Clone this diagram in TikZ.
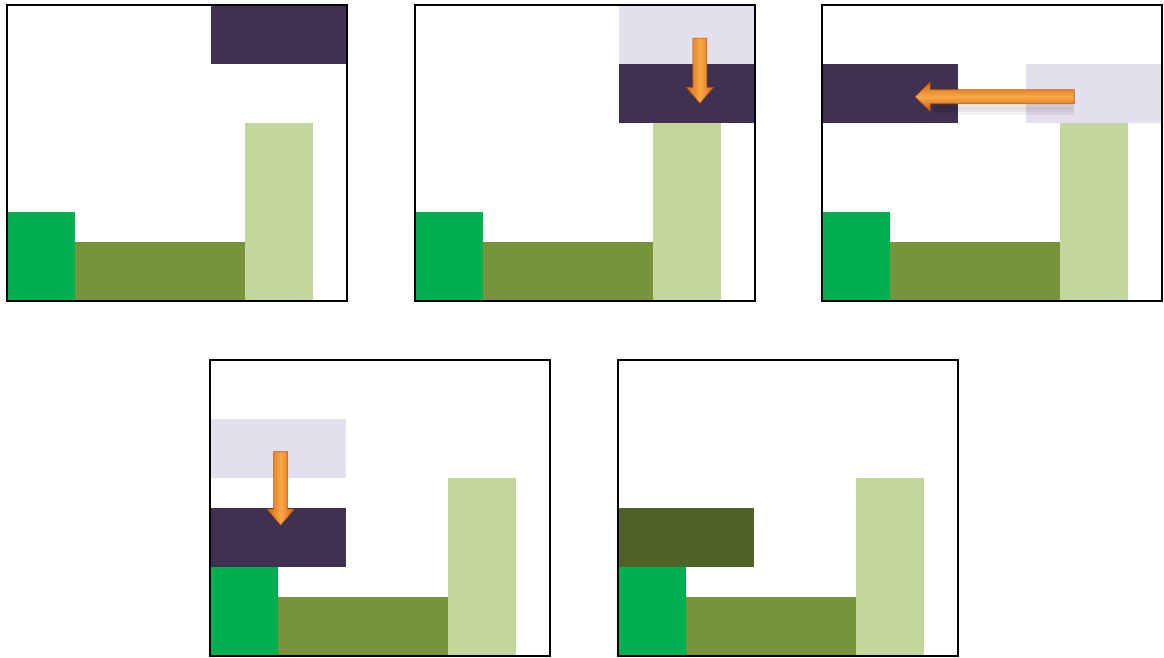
\documentclass[tikz,border=0pt]{standalone}
\usepackage{tikz}
\usetikzlibrary{calc}
\definecolor{plum}{HTML}{403152}
\definecolor{lilac}{HTML}{E4DFEC}
\definecolor{leafgreen}{HTML}{00B050}
\definecolor{olive}{HTML}{77933C}
\definecolor{palegreen}{HTML}{C3D69B}
\definecolor{darkolive}{HTML}{4F6228}
\definecolor{arrowedge}{HTML}{D9660C}
\definecolor{arrowmid}{HTML}{F9A848}
\tikzset{
    panelframe/.style={draw=black, line width=0.9pt},
    plumblock/.style={fill=plum},
    ghostblock/.style={fill=lilac},
    greenblock/.style={fill=leafgreen},
    oliveblock/.style={fill=olive},
    paleblock/.style={fill=palegreen},
    settledblock/.style={fill=darkolive},
    vmove/.style={left color=arrowedge, right color=arrowedge, middle color=arrowmid,
        draw=arrowedge!85!black, line width=0.3pt},
    hmove/.style={top color=arrowedge, bottom color=arrowedge!90!black, middle color=arrowmid,
        draw=arrowedge!85!black, line width=0.3pt}
}
% the blocks every board starts with
\newcommand{\floorblocks}{%
    \fill[greenblock] (0,3.5) rectangle (1,5);
    \fill[oliveblock] (1,4) rectangle (3.5,5);
    \fill[paleblock] (3.5,2) rectangle (4.5,5);
}
\newcommand{\downmove}[2]{%
    \shade[vmove] ($(#1)+(-0.14cm,0)$) -- ($(#2)+(-0.14cm,0.32cm)$) -- ($(#2)+(-0.27cm,0.32cm)$)
        -- (#2) -- ($(#2)+(0.27cm,0.32cm)$) -- ($(#2)+(0.14cm,0.32cm)$) -- ($(#1)+(0.14cm,0)$) -- cycle;
}
\newcommand{\leftmove}[2]{%
    \foreach \s in {0.1,0.16,0.22}
        \fill[black, opacity=0.05] ($(#1)+(0,-\s cm)$) rectangle ($(#2)+(0.35cm,-\s cm-0.14cm)$);
    \shade[hmove] ($(#1)+(0,0.14cm)$) -- ($(#2)+(0.3cm,0.14cm)$) -- ($(#2)+(0.3cm,0.29cm)$)
        -- (#2) -- ($(#2)+(0.3cm,-0.29cm)$) -- ($(#2)+(0.3cm,-0.14cm)$) -- ($(#1)+(0,-0.14cm)$) -- cycle;
}

\begin{document}
\begin{tikzpicture}[x=0.02cm, y=-0.02cm]
\useasboundingbox (0,0) rectangle (1164,657);

% board 1: block waiting at the top
\begin{scope}[shift={(7,5)}, x=1.36cm, y=-1.184cm]
\floorblocks
\fill[plumblock] (3,0) rectangle (5,1);
\draw[panelframe] (0,0) rectangle (5,5);
\end{scope}

% board 2: drop one row
\begin{scope}[shift={(415,5)}, x=1.36cm, y=-1.184cm]
\floorblocks
\fill[ghostblock] (3,0) rectangle (5,1);
\fill[plumblock] (3,1) rectangle (5,2);
\coordinate (dropfrom) at (4.19,0.56);
\coordinate (dropto) at (4.19,1.66);
\downmove{dropfrom}{dropto}
\draw[panelframe] (0,0) rectangle (5,5);
\end{scope}

% board 3: slide to the left wall
\begin{scope}[shift={(822,5)}, x=1.36cm, y=-1.184cm]
\floorblocks
\fill[ghostblock] (3,1) rectangle (5,2);
\fill[plumblock] (0,1) rectangle (2,2);
\coordinate (slidefrom) at (3.71,1.55);
\coordinate (slideto) at (1.37,1.55);
\leftmove{slidefrom}{slideto}
\draw[panelframe] (0,0) rectangle (5,5);
\end{scope}

% board 4: fall onto the green block
\begin{scope}[shift={(210,360)}, x=1.36cm, y=-1.184cm]
\floorblocks
\fill[ghostblock] (0,1) rectangle (2,2);
\fill[plumblock] (0,2.5) rectangle (2,3.5);
\coordinate (fallfrom) at (1.04,1.55);
\coordinate (fallto) at (1.04,2.79);
\downmove{fallfrom}{fallto}
\draw[panelframe] (0,0) rectangle (5,5);
\end{scope}

% board 5: block has landed
\begin{scope}[shift={(618,360)}, x=1.36cm, y=-1.184cm]
\floorblocks
\fill[settledblock] (0,2.5) rectangle (2,3.5);
\draw[panelframe] (0,0) rectangle (5,5);
\end{scope}
\end{tikzpicture}
\end{document}
